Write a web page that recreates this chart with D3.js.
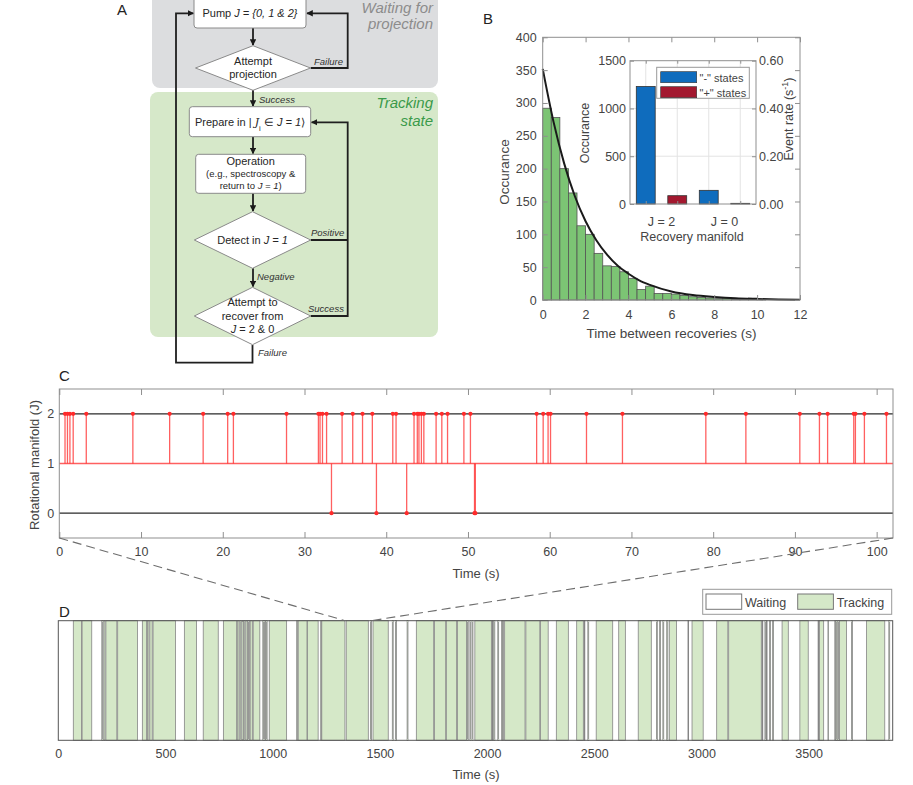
<!DOCTYPE html>
<html>
<head>
<meta charset="utf-8">
<script src="https://cdn.jsdelivr.net/npm/d3@7"></script>
<style>
  body { margin: 0; background: #fff; }
  svg text { font-family: "Liberation Sans", Arial, sans-serif; }
</style>
</head>
<body>
<svg id="fig" width="913" height="785"></svg>
<script>
// ---------- data ----------

// Panel B: histogram of time between recoveries, 0.4 s bins
var binStarts = [0, 0.4, 0.8, 1.2, 1.6, 2.0, 2.4, 2.8, 3.2, 3.6, 4.0, 4.4, 4.8,
                 5.2, 5.6, 6.0, 6.4, 6.8, 7.2, 7.6, 8.0, 8.4, 8.8, 9.2, 9.6, 10.0];
var binWidth = 0.4;
var binCounts = [292, 278, 200, 163, 113, 100, 71, 52, 51, 43, 33, 16, 21,
                 10, 10, 9, 7, 5, 4, 3, 2, 3, 1, 1, 3, 1];
// exponential fit (black curve)
var fitTimes  = [0, 0.5, 1, 1.5, 2, 2.5, 3, 3.5, 4, 4.5, 5, 6, 7, 8, 9, 10, 11, 12];
var fitCounts = [352, 272, 208, 158, 120, 91, 69, 52, 40, 30, 23, 13, 7.5, 4.5, 2.5, 1.5, 0.8, 0.5];
// inset: recoveries per manifold
var insetGroups = ["J = 2", "J = 0"];
var insetSeries = ['"-" states', '"+" states'];
var minusCounts = [1230, 143];
var plusCounts  = [87, 7];
var insetTicks = [0, 500, 1000, 1500];
var rateTicks  = [0, 0.2, 0.4, 0.6];

// Panel C: excursions out of J = 1 (seconds)
var toJ2Times = [0.7, 1.0, 1.3, 1.7, 3.3, 9.0, 13.5, 17.6, 20.6, 21.3, 27.8, 31.7, 31.9,
                 32.2, 32.7, 34.6, 35.9, 37.1, 38.3, 40.8, 41.2, 43.4, 43.8, 44.0, 44.3,
                 44.6, 46.1, 46.8, 47.5, 49.5, 50.3, 58.4, 59.2, 59.8, 60.1, 64.5, 68.9,
                 79.1, 84.0, 90.6, 93.0, 94.0, 97.2, 97.4, 98.5, 101.2];
var toJ0Times = [33.3, 38.8, 42.5, 50.8, 50.9];
var levelTicks = [0, 1, 2];
var timeTicksC = [0, 10, 20, 30, 40, 50, 60, 70, 80, 90, 100];

// Panel D: tracking intervals [start, end] in seconds (rest is waiting)
var trackingIntervals = [
  [70, 108], [111, 156], [203, 207], [212, 218], [222, 273], [277, 369],
  [392, 412], [416, 423], [427, 438], [442, 547], [588, 645], [676, 746], [770, 832],
  [835, 843], [847, 852], [856, 863], [866, 871], [875, 883], [887, 891], [895, 905],
  [909, 940], [954, 958], [962, 966], [970, 974], [984, 1065], [1112, 1115],
  [1119, 1160], [1162, 1212], [1224, 1227], [1229, 1337], [1343, 1446], [1456, 1461],
  [1468, 1539], [1558, 1562], [1573, 1577], [1627, 1631], [1670, 1751], [1755, 1807],
  [1810, 1858], [1862, 1904], [1908, 1912], [1920, 1924], [1930, 1934], [1943, 2020],
  [2024, 2027], [2031, 2036], [2050, 2054], [2068, 2071], [2073, 2076], [2082, 2177],
  [2181, 2246], [2249, 2285], [2323, 2379], [2418, 2449], [2453, 2456], [2470, 2474],
  [2509, 2586], [2614, 2645], [2705, 2766], [2790, 2794], [2805, 2809], [2820, 2824],
  [2838, 2843], [2850, 2884], [2937, 2940], [2956, 3008], [3071, 3123], [3127, 3279],
  [3283, 3286], [3296, 3300], [3303, 3306], [3318, 3322], [3332, 3336], [3376, 3405],
  [3459, 3498], [3544, 3547], [3551, 3570], [3590, 3593], [3622, 3625], [3628, 3632],
  [3636, 3640], [3644, 3677], [3700, 3704], [3770, 3855], [3874, 3878]
];
var timeTicksD = [0, 500, 1000, 1500, 2000, 2500, 3000, 3500];
var zoomWindow = [1338, 1460];

// ---------- setup ----------
var svg = d3.select("#fig");
var textColor = "#444";
var boxColor = "#8f8f8f";
var intFmt = d3.format("d");

function styleAxis(g, size) {
  g.select(".domain").remove();
  g.selectAll(".tick line").attr("stroke", boxColor);
  g.selectAll(".tick text").attr("fill", textColor).style("font-size", size + "px");
}

function panelLabel(txt, x, y) {
  svg.append("text").attr("x", x).attr("y", y).attr("fill", "#222")
    .style("font-size", "15px").text(txt);
}

// ---------- Panel A: flowchart ----------
var defs = svg.append("defs");
defs.append("marker").attr("id", "arrow")
  .attr("viewBox", "0 0 10 10").attr("refX", 9).attr("refY", 5)
  .attr("markerWidth", 3.6).attr("markerHeight", 3.6).attr("orient", "auto")
  .append("path").attr("d", "M0,0 L10,5 L0,10 z").attr("fill", "#1a1a1a");

var flow = svg.append("g");
flow.append("rect").attr("x", 152).attr("y", -10).attr("width", 286).attr("height", 98)
  .attr("rx", 8).attr("fill", "#dcdddf");
flow.append("rect").attr("x", 150).attr("y", 92).attr("width", 288).attr("height", 245)
  .attr("rx", 8).attr("fill", "#d6e8c9");

function bigNote(lines, color) {
  lines.forEach(function (l) {
    flow.append("text").attr("x", 433).attr("y", l[1]).attr("text-anchor", "end")
      .attr("fill", color).style("font-size", "15px").style("font-style", "italic").text(l[0]);
  });
}
bigNote([["Waiting for", 13], ["projection", 29]], "#8c8c8c");
bigNote([["Tracking", 108], ["state", 126]], "#3a9a4a");

// pieces: [text, italic, subscript, font]
function richText(x, y, pieces, size) {
  var t = flow.append("text").attr("x", x).attr("y", y).attr("text-anchor", "middle")
    .attr("fill", "#262626").style("font-size", size + "px");
  pieces.forEach(function (p) {
    var s = t.append("tspan").text(p[0]);
    if (p[1]) s.style("font-style", "italic");
    if (p[2]) s.attr("baseline-shift", "sub").style("font-size", (size * 0.7) + "px");
    if (p[3]) s.style("font-family", p[3]);
  });
  return t;
}

function box(x, y, w, h) {
  flow.append("rect").attr("x", x).attr("y", y).attr("width", w).attr("height", h)
    .attr("rx", 3).attr("fill", "#fff").attr("stroke", "#8a8a8a").attr("stroke-width", 1);
}
function diamond(cx, cy, hw, hh) {
  flow.append("path")
    .attr("d", `M${cx - hw},${cy} L${cx},${cy - hh} L${cx + hw},${cy} L${cx},${cy + hh} Z`)
    .attr("fill", "#fff").attr("stroke", "#8a8a8a").attr("stroke-width", 1);
}
function wire(d, arrow) {
  var p = flow.append("path").attr("d", d).attr("fill", "none")
    .attr("stroke", "#1f1f1f").attr("stroke-width", 1.8);
  if (arrow) p.attr("marker-end", "url(#arrow)");
}
function note(x, y, txt) {
  flow.append("text").attr("x", x).attr("y", y).attr("fill", "#333")
    .style("font-size", "9.5px").style("font-style", "italic").text(txt);
}

// loops first so boxes sit on top
wire("M310.7,68 H347.7 V13.3 H307", true);
wire("M252.5,345 V362.7 H176 V13.3 H193.5", true);
wire("M310.7,316 H347.7 V122.3 H311.5", true);
wire("M310.7,240 H347.7", false);
wire("M253,28 V45", true);
wire("M253,90 V106", true);
wire("M253,136.7 V153.6", true);
wire("M253,193.3 V211", true);
wire("M253,268.3 V286.6", true);

box(194, -4, 112, 32);
richText(250, 17, [["Pump "], ["J = {0, 1 & 2}", true]], 11);
diamond(253, 68, 57.5, 22.3);
richText(253, 65, [["Attempt"]], 11);
richText(253, 78, [["projection"]], 11);
note(314, 65, "Failure");
note(259, 103, "Success");

box(189.3, 106.7, 121.4, 30);
richText(250, 125.5, [["Prepare in | "], ["J", true, false, "DejaVu Serif"], ["i", false, true], [" \u2208 "], ["J = 1", true], ["\u27E9"]], 11);

box(195.7, 154.3, 110, 39);
richText(250.7, 165, [["Operation"]], 11);
richText(250.7, 177, [["(e.g., spectroscopy &"]], 9.5);
richText(250.7, 189, [["return to "], ["J = 1", true], [")"]], 9.5);

diamond(252.5, 240, 58.2, 28.3);
richText(252.5, 244, [["Detect in "], ["J = 1", true]], 11);
note(311, 236, "Positive");
note(257, 280, "Negative");

diamond(252.5, 316, 58.2, 28.7);
richText(252.5, 305.5, [["Attempt to"]], 11);
richText(252.5, 319.5, [["recover from"]], 11);
richText(252.5, 333, [["J", true], [" = 2 & 0"]], 11);
note(308, 312, "Success");
note(258, 356, "Failure");

panelLabel("A", 117, 15);

// ---------- Panel B: histogram + inset ----------
var xB = d3.scaleLinear().domain([0, 12]).range([542.7, 800]);
var yB = d3.scaleLinear().domain([0, 400]).range([300, 37.3]);
var gB = svg.append("g");

gB.selectAll("rect.bin").data(binStarts).enter().append("rect")
  .attr("class", "bin")
  .attr("x", d => xB(d))
  .attr("width", d => xB(d + binWidth) - xB(d))
  .attr("y", (d, i) => yB(binCounts[i]))
  .attr("height", (d, i) => yB(0) - yB(binCounts[i]))
  .attr("fill", "#7cc474").attr("stroke", "#555").attr("stroke-width", 0.8);

var fitLine = d3.line().x((d, i) => xB(fitTimes[i])).y(d => yB(d)).curve(d3.curveMonotoneX);
gB.append("path").datum(fitCounts).attr("d", fitLine)
  .attr("fill", "none").attr("stroke", "#1a1a1a").attr("stroke-width", 2);

var axBx = gB.append("g").attr("transform", "translate(0,300)")
  .call(d3.axisBottom(xB).tickValues([0, 2, 4, 6, 8, 10, 12]).tickSizeInner(-5).tickSizeOuter(0).tickPadding(10));
styleAxis(axBx, 12.5);
var axBy = gB.append("g").attr("transform", "translate(542.7,0)")
  .call(d3.axisLeft(yB).tickValues(d3.range(0, 401, 50)).tickSizeInner(-5).tickSizeOuter(0).tickPadding(6));
styleAxis(axBy, 12.5);
var axBt = gB.append("g").attr("transform", "translate(0,37.3)")
  .call(d3.axisTop(xB).tickValues([0, 2, 4, 6, 8, 10, 12]).tickSizeInner(-5).tickSizeOuter(0).tickFormat(""));
styleAxis(axBt, 12);
var axBr = gB.append("g").attr("transform", "translate(800,0)")
  .call(d3.axisRight(yB).tickValues(d3.range(0, 401, 50)).tickSizeInner(-5).tickSizeOuter(0).tickFormat(""));
styleAxis(axBr, 12);
gB.append("rect").attr("x", 542.7).attr("y", 37.3).attr("width", 800 - 542.7).attr("height", 300 - 37.3)
  .attr("fill", "none").attr("stroke", boxColor);

gB.append("text").attr("x", 671.5).attr("y", 338).attr("text-anchor", "middle")
  .attr("fill", textColor).style("font-size", "13.5px").text("Time between recoveries (s)");
gB.append("text").attr("transform", "translate(509,172) rotate(-90)").attr("text-anchor", "middle")
  .attr("fill", textColor).style("font-size", "13.5px").text("Occurance");

// inset
var xI = d3.scaleLinear().domain([0.5, 4.5]).range([630, 756]);
var yI = d3.scaleLinear().domain([0, 1500]).range([204, 60.7]);
var yR = d3.scaleLinear().domain([0, 0.6]).range([204, 60.7]);
var gI = svg.append("g");
gI.append("rect").attr("x", 630).attr("y", 60.7).attr("width", 126).attr("height", 143.3).attr("fill", "#fff");

// light grid
gI.selectAll("line.gx").data([1, 2, 3, 4]).enter().append("line")
  .attr("x1", d => xI(d)).attr("x2", d => xI(d)).attr("y1", 60.7).attr("y2", 204)
  .attr("stroke", "#e3e3e3");
gI.selectAll("line.gy").data([500, 1000]).enter().append("line")
  .attr("x1", 630).attr("x2", 756).attr("y1", d => yI(d)).attr("y2", d => yI(d))
  .attr("stroke", "#e3e3e3");

var barRows = [];
insetGroups.forEach(function (g, i) {
  barRows.push({ pos: 2 * i + 1, value: minusCounts[i], color: "#0f6cbd" });
  barRows.push({ pos: 2 * i + 2, value: plusCounts[i], color: "#a3182f" });
});
gI.selectAll("rect.ib").data(barRows).enter().append("rect")
  .attr("x", d => xI(d.pos - 0.3)).attr("width", xI(0.6) - xI(0))
  .attr("y", d => yI(d.value)).attr("height", d => yI(0) - yI(d.value))
  .attr("fill", d => d.color).attr("stroke", "#333").attr("stroke-width", 0.8);

var axIl = gI.append("g").attr("transform", "translate(630,0)")
  .call(d3.axisLeft(yI).tickValues(insetTicks).tickSizeInner(-4).tickSizeOuter(0).tickPadding(4).tickFormat(intFmt));
styleAxis(axIl, 12.5);
var axIr = gI.append("g").attr("transform", "translate(756,0)")
  .call(d3.axisRight(yR).tickValues(rateTicks).tickSizeInner(-4).tickSizeOuter(0).tickPadding(3).tickFormat(d3.format(".2f")));
styleAxis(axIr, 12.5);
var axIb = gI.append("g").attr("transform", "translate(0,204)")
  .call(d3.axisBottom(xI).tickValues([1, 2, 3, 4]).tickSizeInner(-3).tickSizeOuter(0).tickFormat(""));
styleAxis(axIb, 12);
var axIt = gI.append("g").attr("transform", "translate(0,60.7)")
  .call(d3.axisTop(xI).tickValues([1, 2, 3, 4]).tickSizeInner(-3).tickSizeOuter(0).tickFormat(""));
styleAxis(axIt, 12);
gI.append("rect").attr("x", 630).attr("y", 60.7).attr("width", 126).attr("height", 143.3)
  .attr("fill", "none").attr("stroke", boxColor);

gI.selectAll("text.grp").data(insetGroups).enter().append("text")
  .attr("x", (d, i) => xI(2 * i + 1.5)).attr("y", 226).attr("text-anchor", "middle")
  .attr("fill", textColor).style("font-size", "12.5px").text(d => d);
gI.append("text").attr("x", 692).attr("y", 240.5).attr("text-anchor", "middle")
  .attr("fill", textColor).style("font-size", "12.5px").text("Recovery manifold");
gI.append("text").attr("transform", "translate(589,133) rotate(-90)").attr("text-anchor", "middle")
  .attr("fill", textColor).style("font-size", "12.5px").text("Occurance");
var er = gI.append("text").attr("transform", "translate(793,119) rotate(-90)").attr("text-anchor", "middle")
  .attr("fill", textColor).style("font-size", "12.5px");
er.append("tspan").text("Event rate (s");
er.append("tspan").attr("dy", -5).style("font-size", "9px").text("-1");
er.append("tspan").attr("dy", 5).text(")");

// inset legend
var leg = gI.append("g");
leg.append("rect").attr("x", 656.7).attr("y", 67.3).attr("width", 92.6).attr("height", 31)
  .attr("fill", "#fff").attr("stroke", "#999");
insetSeries.forEach(function (s, i) {
  leg.append("rect").attr("x", 660.7).attr("y", 71.7 + i * 15).attr("width", 36).attr("height", 11)
    .attr("fill", i === 0 ? "#0f6cbd" : "#a3182f").attr("stroke", "#333").attr("stroke-width", 0.6);
  leg.append("text").attr("x", 699.5).attr("y", 81.5 + i * 15).attr("fill", textColor)
    .style("font-size", "11px").text(s);
});

panelLabel("B", 483, 24);

// ---------- Panel C: manifold trace ----------
var xC = d3.scaleLinear().domain([0, 102]).range([59.3, 893]);
var yC = d3.scaleLinear().domain([-0.5, 2.5]).range([538, 389]);
var gC = svg.append("g");

gC.selectAll("line.lvl").data([0, 2]).enter().append("line")
  .attr("x1", xC(0)).attr("x2", xC(102)).attr("y1", d => yC(d)).attr("y2", d => yC(d))
  .attr("stroke", "#2a2a2a").attr("stroke-width", 1.3);

var red = "#ff2b2b";
gC.append("line").attr("x1", xC(0)).attr("x2", xC(102)).attr("y1", yC(1)).attr("y2", yC(1))
  .attr("stroke", red).attr("stroke-opacity", 0.75).attr("stroke-width", 1.6);
gC.selectAll("line.up").data(toJ2Times).enter().append("line")
  .attr("x1", d => xC(d)).attr("x2", d => xC(d)).attr("y1", yC(1)).attr("y2", yC(2))
  .attr("stroke", red).attr("stroke-opacity", 0.75).attr("stroke-width", 1.3);
gC.selectAll("line.dn").data(toJ0Times).enter().append("line")
  .attr("x1", d => xC(d)).attr("x2", d => xC(d)).attr("y1", yC(1)).attr("y2", yC(0))
  .attr("stroke", red).attr("stroke-opacity", 0.75).attr("stroke-width", 1.3);
gC.selectAll("circle.up").data(toJ2Times).enter().append("circle")
  .attr("cx", d => xC(d)).attr("cy", yC(2)).attr("r", 2.1).attr("fill", red);
gC.selectAll("circle.dn").data(toJ0Times).enter().append("circle")
  .attr("cx", d => xC(d)).attr("cy", yC(0)).attr("r", 2.1).attr("fill", red);

var axCx = gC.append("g").attr("transform", "translate(0,538)")
  .call(d3.axisBottom(xC).tickValues(timeTicksC).tickSizeInner(-6).tickSizeOuter(0).tickPadding(9));
styleAxis(axCx, 12.5);
var axCt = gC.append("g").attr("transform", "translate(0,389)")
  .call(d3.axisTop(xC).tickValues(timeTicksC).tickSizeInner(-6).tickSizeOuter(0).tickFormat(""));
styleAxis(axCt, 12);
var axCy = gC.append("g").attr("transform", "translate(59.3,0)")
  .call(d3.axisLeft(yC).tickValues(levelTicks).tickSizeInner(0).tickSizeOuter(0).tickPadding(5).tickFormat(intFmt));
styleAxis(axCy, 12.5);
gC.append("rect").attr("x", 59.3).attr("y", 389).attr("width", 893 - 59.3).attr("height", 538 - 389)
  .attr("fill", "none").attr("stroke", boxColor);
gC.append("text").attr("x", 476).attr("y", 578).attr("text-anchor", "middle")
  .attr("fill", textColor).style("font-size", "13px").text("Time (s)");
gC.append("text").attr("transform", "translate(39,465) rotate(-90)").attr("text-anchor", "middle")
  .attr("fill", textColor).style("font-size", "13px").text("Rotational manifold (J)");

panelLabel("C", 59, 381);

// ---------- Panel D: waiting / tracking ----------
var xD = d3.scaleLinear().domain([0, 3892]).range([58.3, 892.7]);
var dTop = 620.7, dBot = 740.3;
var gD = svg.append("g");

gD.append("rect").attr("x", xD(0)).attr("y", dTop).attr("width", xD(3892) - xD(0)).attr("height", dBot - dTop)
  .attr("fill", "#fff");
gD.selectAll("rect.trk").data(trackingIntervals).enter().append("rect")
  .attr("x", d => xD(d[0])).attr("y", dTop)
  .attr("width", d => Math.max(xD(d[1]) - xD(d[0]), 0.6)).attr("height", dBot - dTop)
  .attr("fill", "#d5e8c8").attr("stroke", "#858585").attr("stroke-width", 0.8);
gD.append("rect").attr("x", xD(0)).attr("y", dTop).attr("width", xD(3892) - xD(0)).attr("height", dBot - dTop)
  .attr("fill", "none").attr("stroke", "#555");

var axDx = gD.append("g").attr("transform", "translate(0," + dBot + ")")
  .call(d3.axisBottom(xD).tickValues(timeTicksD).tickSize(0).tickPadding(9).tickFormat(intFmt));
styleAxis(axDx, 12.5);
gD.append("text").attr("x", 476).attr("y", 779).attr("text-anchor", "middle")
  .attr("fill", textColor).style("font-size", "13px").text("Time (s)");

// legend
var legD = gD.append("g");
legD.append("rect").attr("x", 702.7).attr("y", 589.3).attr("width", 189).attr("height", 25)
  .attr("fill", "#fff").attr("stroke", "#999");
legD.append("rect").attr("x", 706).attr("y", 594).attr("width", 35.7).attr("height", 15.3)
  .attr("fill", "#fff").attr("stroke", "#777");
legD.append("text").attr("x", 745).attr("y", 606.5).attr("fill", textColor).style("font-size", "12.5px").text("Waiting");
legD.append("rect").attr("x", 797.7).attr("y", 594).attr("width", 35.7).attr("height", 15.3)
  .attr("fill", "#d5e8c8").attr("stroke", "#777");
legD.append("text").attr("x", 836.7).attr("y", 606.5).attr("fill", textColor).style("font-size", "12.5px").text("Tracking");

panelLabel("D", 59, 617);

// dashed zoom lines from C to the window in D
svg.append("line").attr("x1", xC(0)).attr("y1", 538).attr("x2", xD(zoomWindow[0])).attr("y2", dTop)
  .attr("stroke", "#6d6d6d").attr("stroke-width", 1.1).attr("stroke-dasharray", "9,5");
svg.append("line").attr("x1", xC(102)).attr("y1", 538).attr("x2", xD(zoomWindow[1])).attr("y2", dTop)
  .attr("stroke", "#6d6d6d").attr("stroke-width", 1.1).attr("stroke-dasharray", "9,5");
</script>
</body>
</html>
